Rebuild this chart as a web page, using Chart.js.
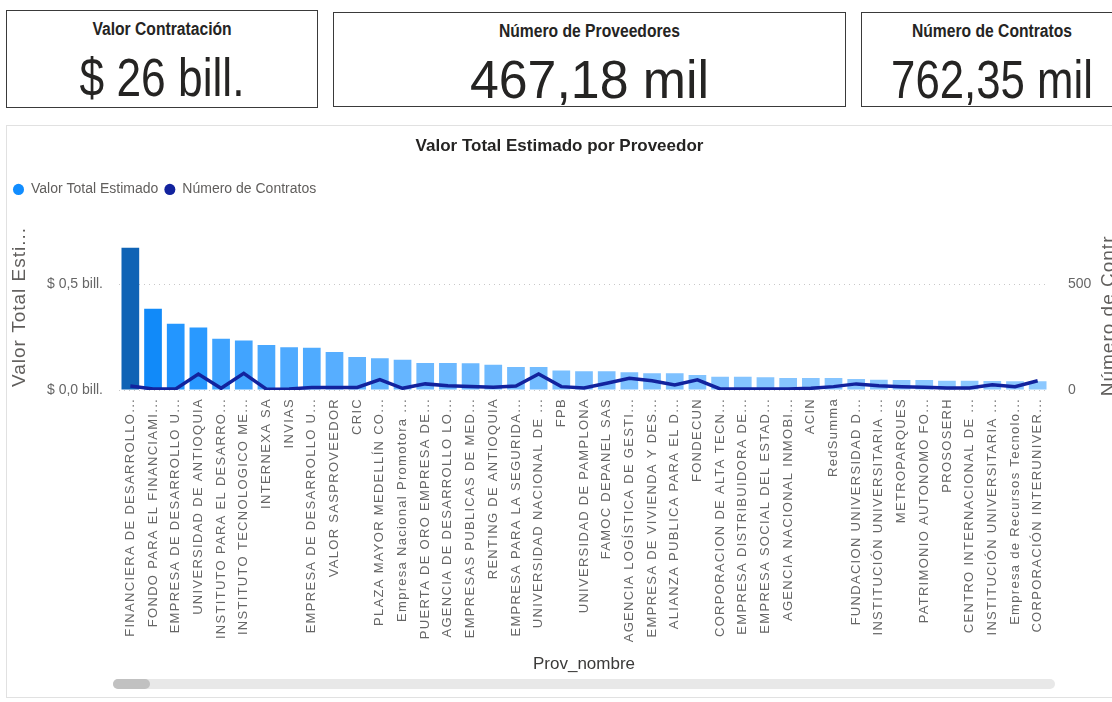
<!DOCTYPE html>
<html>
<head>
<meta charset="utf-8">
<script src="https://cdn.jsdelivr.net/npm/chart.js@4"></script>
<style>
body{margin:0;background:#fff;width:1112px;height:702px;overflow:hidden;position:relative;font-family:"Liberation Sans",sans-serif}
.card{position:absolute;border:1px solid #3a3a3a;box-sizing:border-box;background:#fff;text-align:center}
.card .t{position:absolute;left:0;right:0;top:8px;font-family:"Liberation Sans",sans-serif;font-weight:bold;font-size:18px;color:#252423;white-space:nowrap;transform:scaleX(0.87)}
.card .v{position:absolute;left:0;right:0;top:36px;font-family:"Liberation Sans",sans-serif;font-size:54px;line-height:60px;color:#252423;white-space:nowrap}
#panel{position:absolute;left:6px;top:125px;width:1112px;height:573px;border:1px solid #e1e1e1;box-sizing:border-box}
#wrap{position:absolute;left:7px;top:126px;width:1105px;height:571px}
#track{position:absolute;left:113px;top:679px;width:942px;height:10px;border-radius:5px;background:#e8e8e8}
#thumb{position:absolute;left:113px;top:679px;width:37px;height:10px;border-radius:5px;background:#c1c1c1}
</style>
</head>
<body>
<div class="card" style="left:6px;top:10px;width:312px;height:98px"><div class="t">Valor Contratación</div><div class="v" style="transform:scaleX(0.82)">$ 26 bill.</div></div>
<div class="card" style="left:333px;top:12px;width:513px;height:95px"><div class="t">Número de Proveedores</div><div class="v" style="transform:scaleX(0.96)">467,18 mil</div></div>
<div class="card" style="left:861px;top:12px;width:262px;height:95px"><div class="t">Número de Contratos</div><div class="v" style="transform:scaleX(0.81)">762,35 mil</div></div>
<div id="panel"></div>
<div id="wrap"><canvas id="chart"></canvas></div>
<div id="track"></div><div id="thumb"></div>
<script>
'use strict';

const proveedores = [
  'FINANCIERA DE DESARROLLO...', 'FONDO PARA EL FINANCIAMI...', 'EMPRESA DE DESARROLLO U...',
  'UNIVERSIDAD DE ANTIOQUIA', 'INSTITUTO PARA EL DESARRO...', 'INSTITUTO TECNOLOGICO ME...',
  'INTERNEXA SA', 'INVIAS', 'EMPRESA DE DESARROLLO U...', 'VALOR SASPROVEEDOR', 'CRIC',
  'PLAZA MAYOR MEDELLÍN CO...', 'Empresa Nacional Promotora ...', 'PUERTA DE ORO EMPRESA DE...',
  'AGENCIA DE DESARROLLO LO...', 'EMPRESAS PUBLICAS DE MED...', 'RENTING DE ANTIOQUIA',
  'EMPRESA PARA LA SEGURIDA...', 'UNIVERSIDAD NACIONAL DE ...', 'FPB', 'UNIVERSIDAD DE PAMPLONA',
  'FAMOC DEPANEL SAS', 'AGENCIA LOGÍSTICA DE GESTI...', 'EMPRESA DE VIVIENDA Y DES...',
  'ALIANZA PUBLICA PARA EL D...', 'FONDECUN', 'CORPORACION DE ALTA TECN...',
  'EMPRESA DISTRIBUIDORA DE...', 'EMPRESA SOCIAL DEL ESTAD...', 'AGENCIA NACIONAL INMOBI...',
  'ACIN', 'RedSumma', 'FUNDACION UNIVERSIDAD D...', 'INSTITUCIÓN UNIVERSITARIA ...',
  'METROPARQUES', 'PATRIMONIO AUTONOMO FO...', 'PROSOSERH', 'CENTRO INTERNACIONAL DE ...',
  'INSTITUCIÓN UNIVERSITARIA ...', 'Empresa de Recursos Tecnolo...', 'CORPORACIÓN INTERUNIVER...'
];

// valor total estimado, en billones de pesos
const valorTotal = [
  0.675, 0.386, 0.314, 0.297, 0.243, 0.235, 0.214, 0.203, 0.201, 0.180, 0.157,
  0.151, 0.143, 0.128, 0.128, 0.127, 0.120, 0.109, 0.109, 0.093, 0.089,
  0.089, 0.084, 0.079, 0.079, 0.071, 0.063, 0.063, 0.060, 0.057,
  0.057, 0.057, 0.052, 0.049, 0.048, 0.048, 0.044, 0.044, 0.043, 0.042, 0.042
];

const numContratos = [
  19, 5, 5, 76, 8, 79, 4, 5, 12, 12, 12,
  49, 8, 29, 20, 17, 13, 19, 76, 16, 10,
  32, 56, 44, 24, 48, 5, 5, 5, 5,
  8, 16, 29, 20, 16, 13, 10, 10, 25, 16, 44
];

const leftTicks = [0, 0.5];
const rightTicks = [0, 500];

function mix(a, b, t) {
  t = Math.max(0, Math.min(1, t));
  const c = a.map((x, i) => Math.round(x + (b[i] - x) * t));
  return `rgb(${c[0]},${c[1]},${c[2]})`;
}

function barColor(v) {
  const lo = Math.min(...valorTotal), hi = Math.max(...valorTotal), mid = 0.36;
  if (v <= mid) return mix([140, 200, 255], [17, 141, 255], (v - lo) / (mid - lo));
  return mix([17, 141, 255], [15, 99, 181], (v - mid) / (hi - mid));
}

const legendColors = ['#118DFF', '#12239E'];

function sideTitle(ctx, text, x, y) {
  ctx.save();
  ctx.font = '19px "Liberation Sans", sans-serif';
  ctx.letterSpacing = '1px';
  ctx.fillStyle = '#605E5C';
  ctx.textAlign = 'center';
  ctx.textBaseline = 'middle';
  ctx.translate(x, y);
  ctx.rotate(-Math.PI / 2);
  ctx.fillText(text, 0, 0);
  ctx.restore();
}

// letter spacing on the x labels only (they are drawn after the datasets), plus the side titles
const spacing = {
  id: 'spacing',
  afterDatasetsDraw(chart) { chart.ctx.letterSpacing = '1.3px'; },
  afterDraw(chart) {
    const ctx = chart.ctx, a = chart.chartArea;
    ctx.letterSpacing = '0px';
    sideTitle(ctx, 'Valor Total Esti...', 13, a.bottom - 83);
    sideTitle(ctx, 'Número de Contr...', chart.width - 3, a.bottom - 83);
  }
};

function render() {
  const r = document.getElementById('chart').getContext('2d');
  let rData = {
    type: 'bar',
    data: {
      labels: proveedores,
      datasets: [
        {label: 'Valor Total Estimado', data: valorTotal, backgroundColor: valorTotal.map(barColor),
         barPercentage: 0.78, categoryPercentage: 1, yAxisID: 'y', order: 1},
        {type: 'line', label: 'Número de Contratos', data: numContratos, borderColor: '#12239E',
         backgroundColor: '#12239E', borderWidth: 3.5, pointRadius: 0, tension: 0, yAxisID: 'y1', order: 0}
      ]
    },
    options: {
      responsive: true,
      maintainAspectRatio: false,
      animation: false,
      layout: {padding: 0},
      plugins: {
        title: {display: true, text: 'Valor Total Estimado por Proveedor', color: '#252423',
          font: {size: 17, weight: 'bold', family: '"Liberation Sans", sans-serif'}, padding: {top: 10, bottom: 20}},
        legend: {
          align: 'start',
          labels: {
            usePointStyle: true, pointStyle: 'circle', pointStyleWidth: 11, boxHeight: 8, padding: 6,
            color: '#605E5C', font: {size: 14, family: '"Liberation Sans", sans-serif'},
            sort: (a, b) => a.datasetIndex - b.datasetIndex,
            generateLabels(chart) {
              const items = Chart.defaults.plugins.legend.labels.generateLabels(chart);
              items.forEach(it => { it.fillStyle = legendColors[it.datasetIndex]; it.strokeStyle = legendColors[it.datasetIndex]; it.lineWidth = 0; });
              return items;
            }
          }
        },
        tooltip: {enabled: false}
      },
      scales: {
        x: {
          grid: {display: false, drawTicks: false},
          border: {display: false},
          ticks: {autoSkip: false, minRotation: 90, maxRotation: 90, padding: 8, color: '#666',
            font: {size: 13, family: '"Liberation Sans", sans-serif'}, z: 1},
          title: {display: true, text: 'Prov_nombre', color: '#3b3a39',
            font: {size: 17, family: '"Liberation Sans", sans-serif'}, padding: {top: 0, bottom: 22}},
          afterFit: s => { s.height = 307; }
        },
        y: {
          position: 'left', min: 0, max: 0.871,
          grid: {color: '#c8c8c8', drawTicks: false},
          border: {display: false, dash: [1, 4]},
          ticks: {padding: 16, color: '#666', font: {size: 14, family: '"Liberation Sans", sans-serif'},
            callback: v => '$ ' + v.toFixed(1).replace('.', ',') + ' bill.'},
          afterBuildTicks: s => { s.ticks = leftTicks.map(v => ({value: v})); },
          afterFit: s => { s.width = 112; }
        },
        y1: {
          position: 'right', min: 0, max: 871,
          grid: {display: false, drawTicks: false},
          border: {display: false},
          ticks: {padding: 19, color: '#666', font: {size: 14, family: '"Liberation Sans", sans-serif'}},
          afterBuildTicks: s => { s.ticks = rightTicks.map(v => ({value: v})); },
          afterFit: s => { s.width = 63; }
        }
      }
    },
    plugins: [spacing]
  };
  new Chart(r, rData);
}

render();
</script>
</body>
</html>
